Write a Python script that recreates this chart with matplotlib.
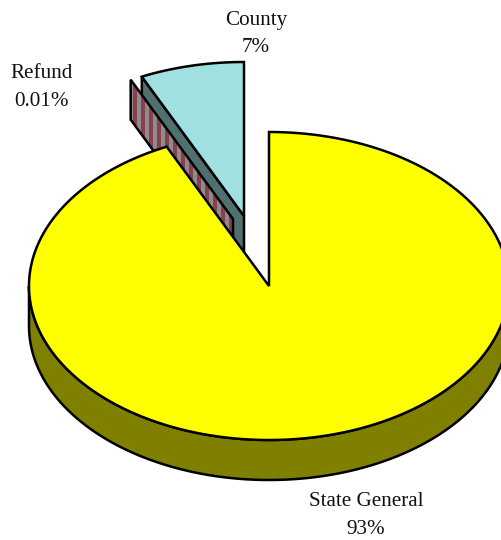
import numpy as np
import matplotlib
matplotlib.use("Agg")
import matplotlib.pyplot as plt
from matplotlib.patches import Polygon, Rectangle

categories = ["State General", "Refund", "County"]
values = [92.99, 0.01, 7.0]
label_pct = ["93%", "0.01%", "7%"]

plt.rcParams['font.family'] = ['Liberation Serif', 'DejaVu Serif']
W, H = 501, 540
fig = plt.figure(figsize=(W/100, H/100), dpi=100)
ax = fig.add_axes([0, 0, 1, 1])
ax.set_xlim(0, W)
ax.set_ylim(H, 0)
ax.axis('off')

CX, CY, A, B, DEPTH = 269, 286, 240, 154, 40
LW = 1.8
offsets = {"State General": (0, 0), "Refund": (-36, -67), "County": (-25, -70)}
top_col = {"State General": "#FFFF00", "Refund": "#FFFFFF", "County": "#A0E0E0"}
wall_col = {"State General": "#808000", "County": "#507070"}

# angles, clockwise from 12 o'clock
sweeps = np.array(values) / sum(values) * 360
starts = 90 - np.concatenate([[0], np.cumsum(sweeps)[:-1]])
ends = starts - sweeps

def pt(ang, cx, cy):
    r = np.radians(ang)
    return np.column_stack([cx + A*np.cos(r), cy - B*np.sin(r)])

def sector(i):
    dx, dy = offsets[categories[i]]
    cx, cy = CX + dx, CY + dy
    n = max(2, int(abs(sweeps[i])) * 2)
    arc = pt(np.linspace(starts[i], ends[i], n), cx, cy)
    return cx, cy, np.vstack([[cx, cy], arc])

# County: side wall facing the viewer, then the top
ci = categories.index("County")
cx, cy, poly = sector(ci)
edge = pt(np.array([starts[ci]]), cx, cy)[0]
ax.add_patch(Polygon([edge, (cx, cy), (cx, cy+DEPTH), (edge[0], edge[1]+DEPTH)],
                     closed=True, fc=wall_col["County"], ec='k', lw=LW, zorder=1))
ax.add_patch(Polygon(poly, closed=True, fc=top_col["County"], ec='k', lw=LW,
                     joinstyle='miter', zorder=2))

# Refund: only its striped cut face shows
ri = categories.index("Refund")
cx, cy, _ = sector(ri)
edge = pt(np.array([starts[ri]]), cx, cy)[0]
face = Polygon([edge, (cx, cy), (cx, cy+DEPTH), (edge[0], edge[1]+DEPTH)],
               closed=True, fc="#8C8C8C", ec='none', zorder=3)
ax.add_patch(face)
for x in np.arange(edge[0] + 2, cx, 8):
    s = Rectangle((x, 0), 4, H, fc="#8A4048", ec='none', zorder=3.1)
    ax.add_patch(s)
    s.set_clip_path(face)
ax.add_patch(Polygon(face.get_xy(), closed=True, fc='none', ec='k', lw=LW,
                     joinstyle='miter', zorder=3.2))

# State General: front wall then top
si = categories.index("State General")
front = pt(np.linspace(180, 360, 361), CX, CY)
wall = np.vstack([front, (front + [0, DEPTH])[::-1]])
ax.add_patch(Polygon(wall, closed=True, fc=wall_col["State General"], ec='k', lw=LW, zorder=4))
cx, cy, poly = sector(si)
ax.add_patch(Polygon(poly, closed=True, fc=top_col["State General"], ec='k', lw=LW,
                     joinstyle='miter', zorder=5))

# Labels
pos = {"State General": (366, 502, 530), "Refund": (42, 73, 101), "County": (256, 20, 48)}
for name, pct in zip(categories, label_pct):
    x, y1, y2 = pos[name]
    ax.text(x, y1, name, ha='center', va='center', fontsize=15.2, color='#111111')
    ax.text(x, y2, pct, ha='center', va='center', fontsize=15.2, color='#111111')

fig.savefig("out.png", dpi=100)
